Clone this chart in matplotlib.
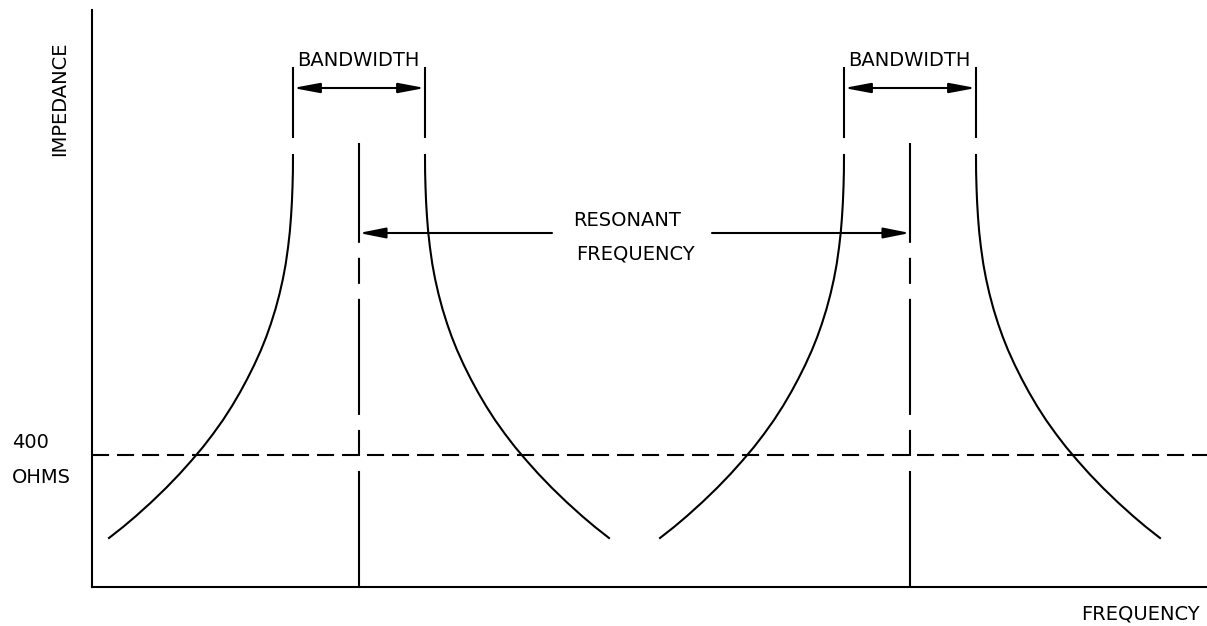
import matplotlib.pyplot as plt

# one flank of the resonance curve: distance out from the band edge vs impedance
curve_height = [432, 415, 400, 385, 370, 355, 340, 323, 308, 293, 278, 263, 250, 237,
                222, 208, 195, 181, 167, 153, 140, 127, 113, 99, 85, 71, 60, 49]
curve_offset = [0, 0.1, 0.5, 1.1, 2.0, 3.2, 4.9, 7.3, 10.1, 13.5, 17.5, 22.2, 26.8, 32.0,
                38.8, 45.8, 52.8, 61, 70, 80, 90, 101, 113.5, 127, 141.5, 157, 170, 184]

resonant_freqs = [267, 818]
half_bandwidth = 66
ohms_400 = 132

fig = plt.figure(figsize=(12.07, 6.26), dpi=100)
ax = fig.add_axes([92 / 1207, 39 / 626, 1115 / 1207, 577 / 626])
ax.set_xlim(0, 1115)
ax.set_ylim(0, 577)
for side in ["top", "right"]:
    ax.spines[side].set_visible(False)
for side in ["left", "bottom"]:
    ax.spines[side].set_linewidth(1.5)
ax.set_xticks([])
ax.set_yticks([])

lw = 1.5
font = dict(family="DejaVu Sans", fontsize=14, color="black")

# 400 ohm reference line
ax.axhline(ohms_400, color="black", lw=lw, linestyle=(0, (8.2, 3.8)))

for f0 in resonant_freqs:
    lo = f0 - half_bandwidth
    hi = f0 + half_bandwidth
    ax.plot([lo - d for d in curve_offset], curve_height, color="black", lw=lw,
            solid_joinstyle="round")
    ax.plot([hi + d for d in curve_offset], curve_height, color="black", lw=lw,
            solid_joinstyle="round")

    # resonant frequency centre line
    ax.plot([f0, f0], [0, 444], color="black", lw=lw,
            linestyle=(0, (55.7, 7.2, 12.5, 7.2)))

    # bandwidth extension lines and dimension arrow
    ax.plot([lo, lo], [450, 519], color="black", lw=lw)
    ax.plot([hi, hi], [450, 519], color="black", lw=lw)
    ax.annotate("", xy=(hi, 499), xytext=(lo, 499),
                arrowprops=dict(arrowstyle="<|-|>,head_length=1.6,head_width=0.3",
                                mutation_scale=10, color="black", lw=lw,
                                shrinkA=0, shrinkB=0))
    ax.text(f0 - 1, 521, "BANDWIDTH", ha="center", va="baseline", **font)

# resonant frequency callout
ax.annotate("", xy=(resonant_freqs[0], 354), xytext=(460, 354),
            arrowprops=dict(arrowstyle="-|>,head_length=1.6,head_width=0.32",
                            mutation_scale=10, color="black", lw=lw,
                            shrinkA=0, shrinkB=0))
ax.annotate("", xy=(resonant_freqs[1], 354), xytext=(620, 354),
            arrowprops=dict(arrowstyle="-|>,head_length=1.6,head_width=0.32",
                            mutation_scale=10, color="black", lw=lw,
                            shrinkA=0, shrinkB=0))
ax.text(481, 361, "RESONANT", ha="left", va="baseline", **font)
ax.text(484, 327, "FREQUENCY", ha="left", va="baseline", **font)

# axis labels
ax.text(-80, 139, "400", ha="left", va="baseline", clip_on=False, **font)
ax.text(-80, 104, "OHMS", ha="left", va="baseline", clip_on=False, **font)
ax.text(-32, 488, "IMPEDANCE", rotation=90, ha="center", va="center", clip_on=False, **font)
ax.text(1108, -32, "FREQUENCY", ha="right", va="baseline", clip_on=False, **font)

fig.savefig("out.png", dpi=100)
